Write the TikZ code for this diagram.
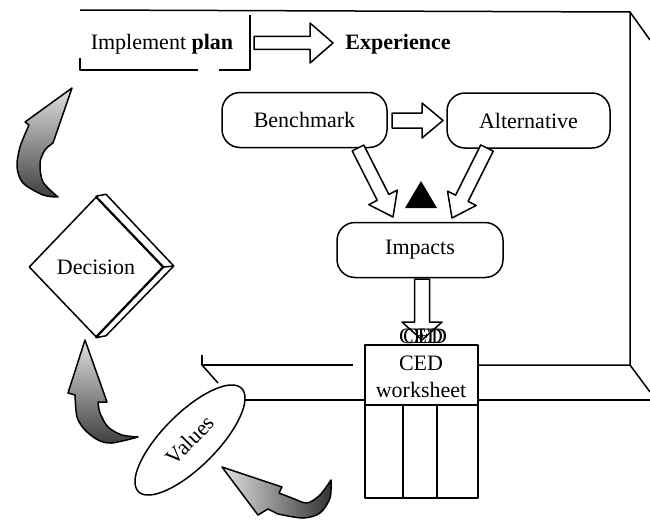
\documentclass[tikz,border=0pt]{standalone}
\usepackage{fontspec}
\setmainfont{Liberation Serif}
\usetikzlibrary{shapes.geometric,calc}
\newcommand\blockarr[5]{%
  \coordinate (bah) at ($(#2)!#5!(#1)$);
  \draw[harrow] ($(#1)!#3!90:(#2)$) -- ($(bah)!#3!-90:(#1)$) -- ($(bah)!#4!-90:(#1)$) -- (#2)
    -- ($(bah)!#4!90:(#1)$) -- ($(bah)!#3!90:(#1)$) -- ($(#1)!#3!-90:(#2)$) -- cycle;}
\begin{document}
\begin{tikzpicture}[x=1pt,y=-1pt,line width=1.5pt,line join=round,
  every node/.style={font=\fontsize{22}{26}\selectfont},
  rbox/.style={draw,fill=white,rounded corners=18pt,minimum height=55,inner sep=0pt},
  harrow/.style={draw,fill=white,line width=1.5pt},
  curvy/.style={draw,line width=1.5pt,top color=black!12,bottom color=black!75}]
\useasboundingbox (0,0) rectangle (650,519);
% frame
\draw (80,10) -- (630,12) -- (630,365) -- (478,365);
\draw (353,365) -- (202,365) -- (202,355);
\draw (630,12) -- (650,40);
\draw (630,365) -- (650,392);
\draw (202,365) -- (218,383);
\draw (245,400) -- (365,400);
\draw (478,400) -- (650,400);
% implement plan box
\draw (80,58) -- (80,70) -- (198,70);
\draw (219,70) -- (250,70) -- (250,15);
\node (impl) at (162,44) {Implement \textbf{plan}};
\node[font=\fontsize{22}{26}\selectfont\bfseries] (exp) at (398,44) {Experience};
\coordinate (a1s) at (254,43);
\coordinate (a1e) at (333,43);
\blockarr{a1s}{a1e}{6.5pt}{20pt}{23pt}
% boxes
\node[rbox,minimum width=165] (bench) at (304.5,120) {Benchmark};
\node[rbox,minimum width=163] (alt) at (528.5,120.5) {Alternative};
\node[rbox,minimum width=166] (imp) at (420,250) {Impacts};
\coordinate (a2s) at (392,120.5);
\coordinate (a2e) at (443,120.5);
\blockarr{a2s}{a2e}{7.5pt}{17.5pt}{21pt}
\coordinate (a3s) at (358,148);
\coordinate (a3e) at (393,217);
\blockarr{a3s}{a3e}{6.5pt}{16pt}{22pt}
\coordinate (a4s) at (487,148);
\coordinate (a4e) at (452,218);
\blockarr{a4s}{a4e}{7pt}{16pt}{22pt}
\fill (405,208) -- (437,208) -- (421,181) -- cycle;
% worksheet
\node[draw,fill=white,minimum width=113,minimum height=153,inner sep=0pt] (ws) at (421.5,421.5) {};
\node (ws1) at (421,363) {CED};
\node (ws2) at (421,390) {worksheet};
\draw (365,405) -- (478,405);
\draw (403,405) -- (403,498);
\draw (437,405) -- (437,498);
\coordinate (a5s) at (422,279);
\coordinate (a5e) at (422,340);
\blockarr{a5s}{a5e}{7.5pt}{20pt}{18pt}
\node (ced1) at (421,336) {CED};
\node (ced2) at (425,336) {CED};
% decision
\node[diamond,draw,fill=white,minimum width=134,minimum height=140,inner sep=0pt] (dec) at (96,267) {Decision};
\draw[fill=white] (dec.north) -- ++(10,-2) -- ($(dec.east)+(10,-1)$) -- ($(dec.south)+(10,-2)$) -- (dec.south) -- (dec.east) -- cycle;
\draw (dec.east) -- ++(10,-1);
% values
\node[ellipse,draw,fill=white,minimum width=146,minimum height=54,inner sep=0pt,rotate=45] (val) at (190,440) {Values};
% curved arrows
\path[curvy] (72,88) -- (25,122) -- (29,125)
  -- plot[smooth] coordinates {(29,125) (20,147) (17,167) (23,183) (43,195) (58,197)}
  -- plot[smooth] coordinates {(58,197) (43,182) (40,163) (45,150) (53,143)} -- cycle;
\path[curvy] (85,340) -- (68,393) -- (75,395)
  -- plot[smooth] coordinates {(75,395) (77,417) (85,430) (98,440) (112,443) (138,437)}
  -- plot[smooth] coordinates {(138,437) (122,435) (108,427) (100,413) (98,402)} -- (107,402) -- cycle;
\path[draw,line width=1.5pt,left color=black!12,right color=black!80] (222,467) -- (282,487) -- (279,493)
  -- plot[smooth] coordinates {(279,493) (292,498) (307,503) (320,495) (331,480)}
  -- plot[smooth] coordinates {(331,480) (330,498) (320,513) (303,518) (278,514)} -- (268,509) -- (258,515) -- cycle;
\end{tikzpicture}
\end{document}
